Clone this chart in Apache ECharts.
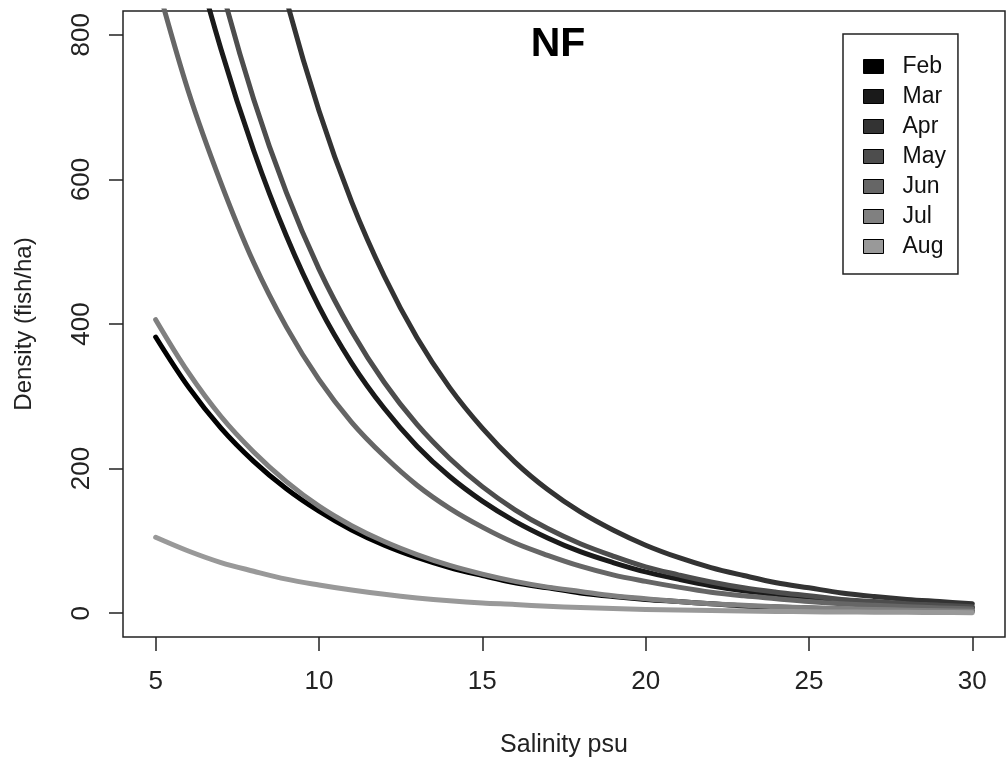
<!DOCTYPE html>
<html>
<head>
<meta charset="utf-8">
<script src="https://cdn.jsdelivr.net/npm/echarts@6/dist/echarts.min.js"></script>
<style>
  html, body { margin: 0; padding: 0; background: #fff; }
  #main { width: 1008px; height: 762px; }
</style>
</head>
<body>
<div id="main"></div>
<script>
// salinity (psu) at which the curves were read
var salinity = [5, 6, 7, 8, 9, 10, 11, 12, 13, 14, 15, 16, 17, 18, 19, 20, 21, 22, 23, 24, 25, 26, 27, 28, 29, 30];

// density (fish/ha), one list per month
var feb = [382, 313, 256, 210, 172, 141, 115, 94, 77, 63, 52, 42, 35, 28, 23, 19, 16, 13, 10, 8.6, 7, 5.7, 4.7, 3.9, 3.1, 2.6];
var mar = [1146, 945, 780, 640, 522, 424, 346, 283, 231, 189, 155, 127, 104, 85, 70, 57, 47, 38, 31, 26, 21, 17, 14, 12, 9.4, 7.7];
var apr = [1889, 1547, 1266, 1037, 849, 695, 569, 466, 381, 312, 256, 209, 171, 140, 115, 94, 77, 63, 52, 42, 35, 28, 23, 19, 16, 13];
var may = [1295, 1060, 868, 711, 582, 476, 390, 319, 261, 214, 175, 143, 117, 96, 79, 64, 53, 43, 35, 29, 24, 19, 16, 13, 11, 8.7];
var jun = [878, 722, 595, 485, 396, 323, 264, 217, 177, 145, 119, 97, 80, 65, 53, 44, 36, 29, 24, 20, 16, 13, 11, 8.9, 7.2, 5.9];
var jul = [406, 333, 272, 223, 182, 148, 121, 99, 81, 66, 54, 44, 36, 30, 24, 20, 16, 13, 11, 9, 7.4, 6.1, 5, 4.1, 3.3, 2.7];
var aug = [105, 86, 70, 58, 47, 39, 32, 26, 21, 17, 14, 12, 9.5, 7.8, 6.4, 5.2, 4.3, 3.5, 2.9, 2.4, 1.9, 1.6, 1.3, 1.1, 0.9, 0.7];

var months = ['Feb', 'Mar', 'Apr', 'May', 'Jun', 'Jul', 'Aug'];
var monthData = [feb, mar, apr, may, jun, jul, aug];
var greys = ['#000000', '#1a1a1a', '#333333', '#4d4d4d', '#666666', '#808080', '#999999'];

var xTicks = [5, 10, 15, 20, 25, 30];
var yTicks = [0, 200, 400, 600, 800];

var font = "'Liberation Sans', Arial, sans-serif";

var chart = echarts.init(document.getElementById('main'), null, { renderer: 'canvas' });

function pairs(ys) {
  return salinity.map(function (x, i) { return [x, ys[i]]; });
}

var series = months.map(function (m, i) {
  return {
    name: m,
    type: 'line',
    data: pairs(monthData[i]),
    showSymbol: false,
    smooth: 0.35,
    clip: true,
    color: greys[i],
    lineStyle: { width: 5, color: greys[i], cap: 'round', join: 'round' },
    emphasis: { disabled: true },
    z: 2 + i
  };
});

var option = {
  backgroundColor: '#ffffff',
  animation: false,
  grid: {
    left: 123, right: 3, top: 11, bottom: 125,
    outerBoundsMode: 'none',
    containLabel: false,
    show: true, borderColor: '#222', borderWidth: 1.5, backgroundColor: 'transparent'
  },
  xAxis: {
    type: 'value',
    min: 4, max: 31,
    name: 'Salinity psu',
    nameLocation: 'middle',
    nameGap: 96,
    nameTextStyle: { fontFamily: font, fontSize: 25, color: '#222' },
    axisLine: { show: false, onZero: false },
    splitLine: { show: false },
    axisTick: { show: true, length: 14, customValues: xTicks, lineStyle: { color: '#222', width: 1.5 } },
    axisLabel: { customValues: xTicks, margin: 32, fontFamily: font, fontSize: 26, color: '#222' }
  },
  yAxis: {
    type: 'value',
    min: -33, max: 833,
    name: 'Density (fish/ha)',
    nameLocation: 'middle',
    nameGap: 87,
    nameRotate: 90,
    nameTextStyle: { fontFamily: font, fontSize: 24, color: '#222' },
    axisLine: { show: false, onZero: false },
    splitLine: { show: false },
    axisTick: { show: true, length: 14, customValues: yTicks, lineStyle: { color: '#222', width: 1.5 } },
    axisLabel: { customValues: yTicks, rotate: 90, margin: 28, fontFamily: font, fontSize: 26, color: '#222' }
  },
  legend: {
    data: months,
    orient: 'vertical',
    left: 843, top: 34,
    padding: [21, 12, 16, 20],
    itemGap: 7,
    itemWidth: 20,
    itemHeight: 14,
    icon: 'rect',
    borderColor: '#222',
    borderWidth: 1.5,
    backgroundColor: '#fff',
    itemStyle: { borderColor: '#000', borderWidth: 1 },
    textStyle: { fontFamily: font, fontSize: 23, color: '#111', lineHeight: 20, padding: [0, 0, 0, 14] }
  },
  graphic: [{
    type: 'text',
    x: 558, y: 45,
    style: {
      text: 'NF',
      font: 'bold 41px ' + font,
      fill: '#000',
      textAlign: 'center',
      textVerticalAlign: 'middle'
    }
  }],
  series: series
};

chart.setOption(option);
</script>
</body>
</html>
